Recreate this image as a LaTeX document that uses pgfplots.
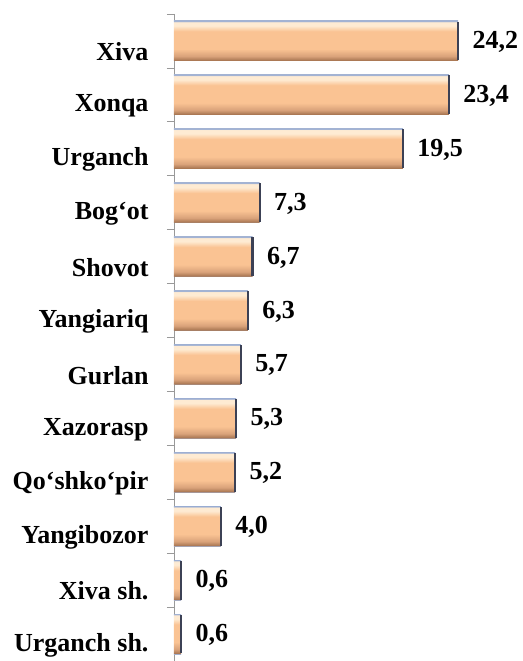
\documentclass[border=0pt]{standalone}
\usepackage{pgfplots}
\pgfplotsset{compat=1.18}
\usepackage{fontspec}
\setmainfont{Liberation Serif}
\definecolor{bordr}{HTML}{A3B3D3}
\definecolor{dkb}{HTML}{A87652}
\definecolor{midb}{HTML}{D9A27A}
\definecolor{peach}{HTML}{FAC393}
\definecolor{lite}{HTML}{FEEBD3}
\definecolor{endc}{HTML}{3C4155}
\pgfdeclareverticalshading{bevel}{100bp}{color(0bp)=(bordr); color(25bp)=(bordr); color(25.8bp)=(dkb); color(31bp)=(midb); color(40bp)=(peach); color(62bp)=(peach); color(69bp)=(lite); color(73.5bp)=(lite); color(74.3bp)=(bordr); color(100bp)=(bordr)}
\pgfplotsset{barsty/.style={shading=bevel, draw=none,
  error bars/.cd, y dir=both, y fixed=0.36, error mark=none,
  error bar style={line width=2.4bp, draw=endc}}}
\begin{document}
\begin{tikzpicture}[x=1bp,y=1bp]
\useasboundingbox (-174,0) rectangle (349,661);
\begin{axis}[
  at={(0,0)}, anchor=south west,
  scale only axis,
  width=340.5bp, height=647bp,
  xmin=0, xmax=29,
  ymin=-0.5, ymax=11.5,
  y dir=reverse,
  hide x axis,
  axis y line*=left,
  axis line style={draw=gray!80, line width=0.8bp},
  ytick={0,...,11},
  yticklabels={Xiva,Xonqa,Urganch,Bog‘ot,Shovot,Yangiariq,Gurlan,Xazorasp,Qo‘shko‘pir,Yangibozor,Xiva sh.,Urganch sh.},
  major tick length=0pt,
  minor ytick={-0.5,0.5,...,11.5},
  minor tick length=7bp,
  tick align=outside,
  minor tick style={draw=gray!80, line width=0.8bp},
  yticklabel style={font=\fontsize{26bp}{30bp}\selectfont\bfseries, anchor=east, xshift=-22bp, yshift=-11bp},
  xbar, bar width=40bp, bar shift=0pt,
  nodes near coords,
  nodes near coords style={font=\fontsize{26bp}{30bp}\selectfont\bfseries, anchor=west, xshift=11bp, yshift=-1bp},
  /pgf/number format/.cd, use comma, fixed, fixed zerofill, precision=1, assume math mode=true,
]
\addplot[barsty] coordinates {(24.2,0)};
\addplot[barsty] coordinates {(23.4,1)};
\addplot[barsty] coordinates {(19.5,2)};
\addplot[barsty] coordinates {(7.3,3)};
\addplot[barsty] coordinates {(6.7,4)};
\addplot[barsty] coordinates {(6.3,5)};
\addplot[barsty] coordinates {(5.7,6)};
\addplot[barsty] coordinates {(5.3,7)};
\addplot[barsty] coordinates {(5.2,8)};
\addplot[barsty] coordinates {(4.0,9)};
\addplot[barsty] coordinates {(0.6,10)};
\addplot[barsty] coordinates {(0.6,11)};
\end{axis}
\end{tikzpicture}
\end{document}
